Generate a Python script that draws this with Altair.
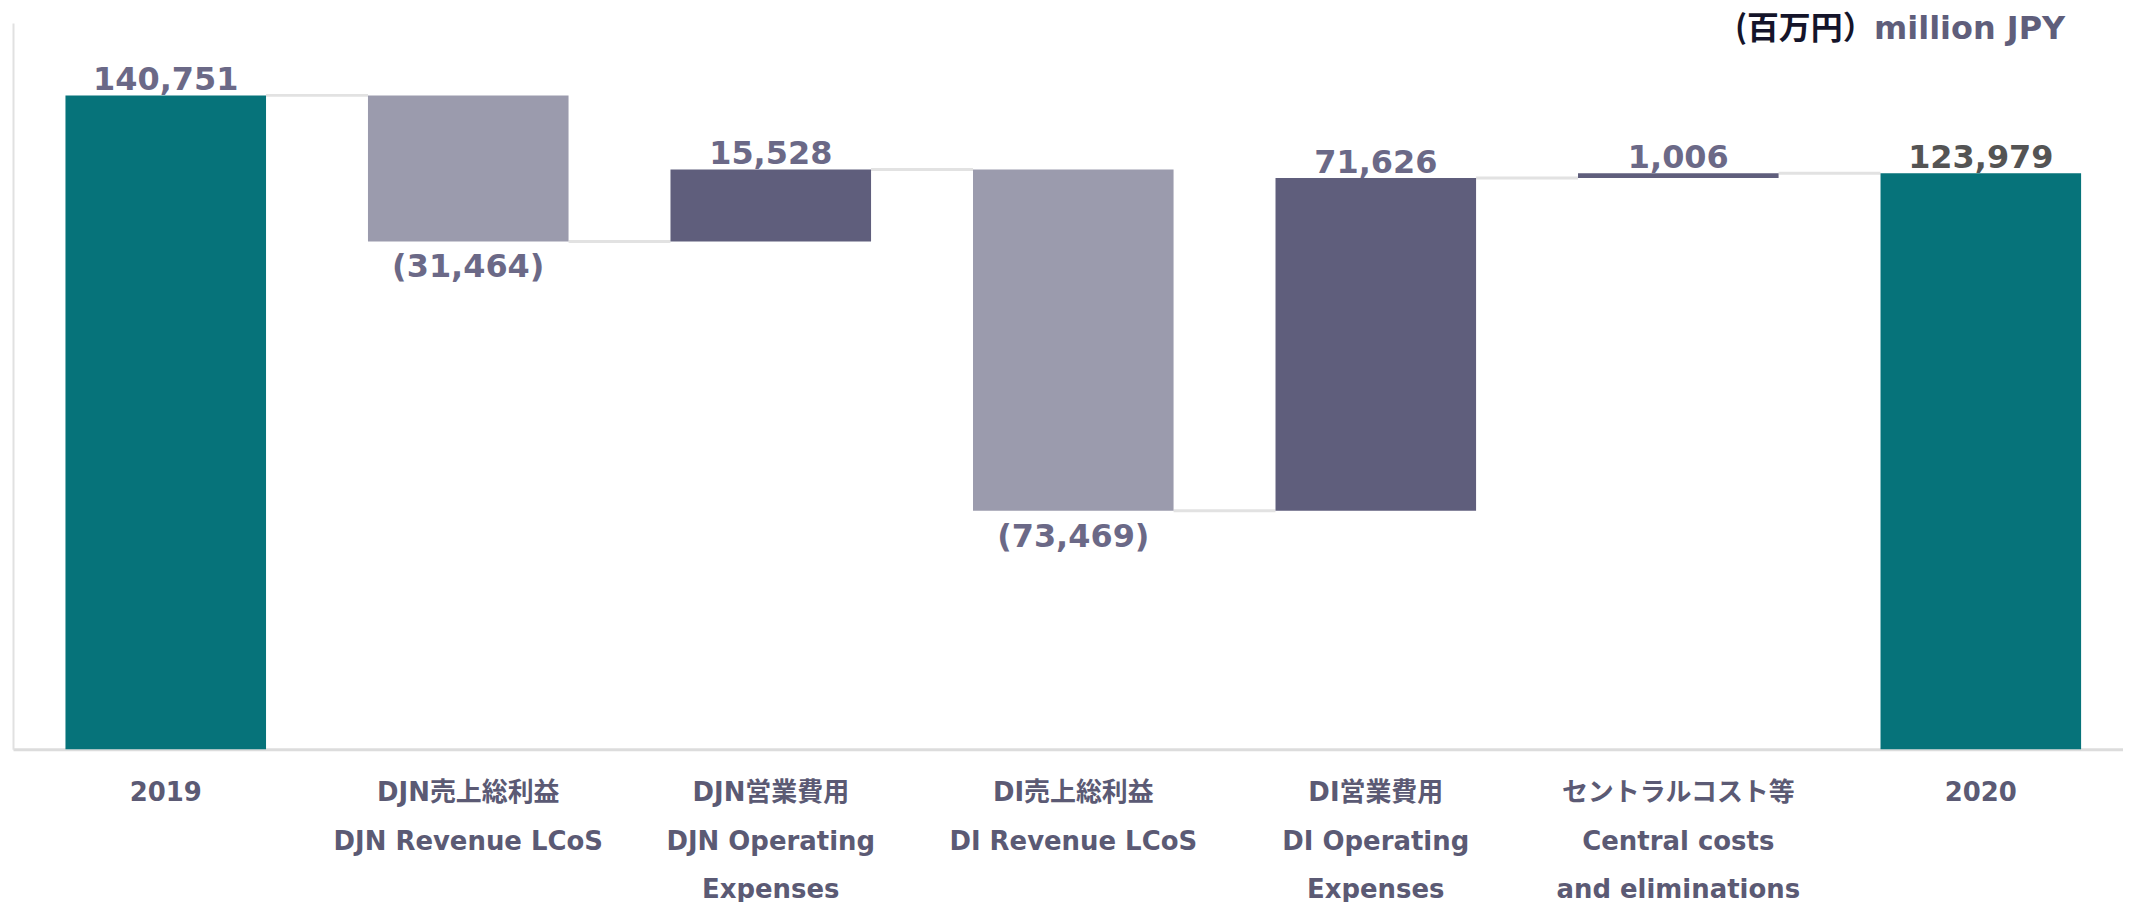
import altair as alt
import pandas as pd

# ---- data ----
categories = [
    "2019",
    "DJN売上総利益|DJN Revenue LCoS",
    "DJN営業費用|DJN Operating|Expenses",
    "DI売上総利益|DI Revenue LCoS",
    "DI営業費用|DI Operating|Expenses",
    "セントラルコスト等|Central costs|and eliminations",
    "2020",
]
values = [140751, -31464, 15528, -73469, 71626, 1006, 123979]
is_total = [True, False, False, False, False, False, True]
unit_jp = "(百万円）"
unit_en = "million JPY"

rows = []
run = 0
for c, v, t in zip(categories, values, is_total):
    if t:
        start, end, kind = 0, v, "total"
        run = v
    else:
        start, end = run, run + v
        run = end
        kind = "neg" if v < 0 else "pos"
    label = f"({-v:,})" if v < 0 else f"{v:,}"
    rows.append(dict(cat=c, start=start, end=end, top=max(start, end),
                     bottom=min(start, end), kind=kind, label=label))
df = pd.DataFrame(rows)

conn = pd.DataFrame({
    "cat": categories[:-1],
    "next": categories[1:],
    "level": list(df["end"][:-1]),
})

LATIN = "DejaVu Sans, Noto Sans CJK JP"

xscale = alt.Scale(paddingInner=0.337, paddingOuter=0.156, align=0.556)
yscale = alt.Scale(domain=[0, 156320], nice=False, zero=True)

xaxis = alt.Axis(
    title=None, labelAngle=0, ticks=False, tickSize=0, grid=False,
    domainColor="#dcdcdc", domainWidth=3,
    labelPadding=30, labelFont=LATIN, labelFontSize=26, labelFontWeight="bold",
    labelColor="#5b5a74", labelLineHeight=49, labelLimit=500, labelOverlap=False,
    labelExpr="split(datum.label, '|')",
)
yaxis = alt.Axis(title=None, labels=False, ticks=False, grid=False,
                 domainColor="#e1e1e1", domainWidth=2)

x_enc = alt.X("cat:N", sort=categories, scale=xscale, axis=xaxis)

connectors = alt.Chart(conn).mark_rule(color="#e2e2e2", strokeWidth=3).encode(
    x=alt.X("cat:N", sort=categories, scale=xscale, axis=xaxis, bandPosition=1),
    x2=alt.X2(field="next", bandPosition=0),
    y=alt.Y("level:Q", scale=yscale, axis=yaxis),
)

bars = alt.Chart(df).mark_bar().encode(
    x=x_enc,
    y=alt.Y("start:Q", scale=yscale, axis=yaxis),
    y2="end:Q",
    color=alt.Color("kind:N", legend=None,
                    scale=alt.Scale(domain=["total", "neg", "pos"],
                                    range=["#06737a", "#9b9bad", "#5f5e7c"])),
)

label_color = alt.condition("datum.cat == '2020'", alt.value("#545454"), alt.value("#6b6987"))

up_labels = alt.Chart(df).transform_filter("datum.kind != 'neg'").mark_text(
    baseline="alphabetic", dy=-5, font="DejaVu Sans", fontSize=32, fontWeight="bold"
).encode(
    x=x_enc,
    y=alt.Y("top:Q", scale=yscale, axis=yaxis),
    text="label:N",
    color=label_color,
)

down_labels = alt.Chart(df).transform_filter("datum.kind == 'neg'").mark_text(
    baseline="top", dy=11, font="DejaVu Sans", fontSize=32, fontWeight="bold"
).encode(
    x=x_enc,
    y=alt.Y("bottom:Q", scale=yscale, axis=yaxis),
    text="label:N",
    color=label_color,
)

unit1 = alt.Chart(pd.DataFrame({"t": [unit_jp]})).mark_text(
    align="right", baseline="alphabetic", font="Noto Sans CJK JP",
    fontSize=32, fontWeight="bold", color="#14142a"
).encode(x=alt.value(1866), y=alt.value(16), text="t:N")

unit2 = alt.Chart(pd.DataFrame({"t": [unit_en]})).mark_text(
    align="right", baseline="alphabetic", font="DejaVu Sans",
    fontSize=32, fontWeight="bold", color="#5f5e7b"
).encode(x=alt.value(2057), y=alt.value(16), text="t:N")

chart = alt.layer(connectors, bars, up_labels, down_labels, unit1, unit2).properties(
    width=2115, height=728,
    autosize=alt.AutoSizeParams(type="none"),
    padding={"left": 5, "top": 14, "right": 0, "bottom": 170},
).configure_view(stroke=None)

chart.save("out.html", embed_options={"renderer": "svg", "actions": False})
